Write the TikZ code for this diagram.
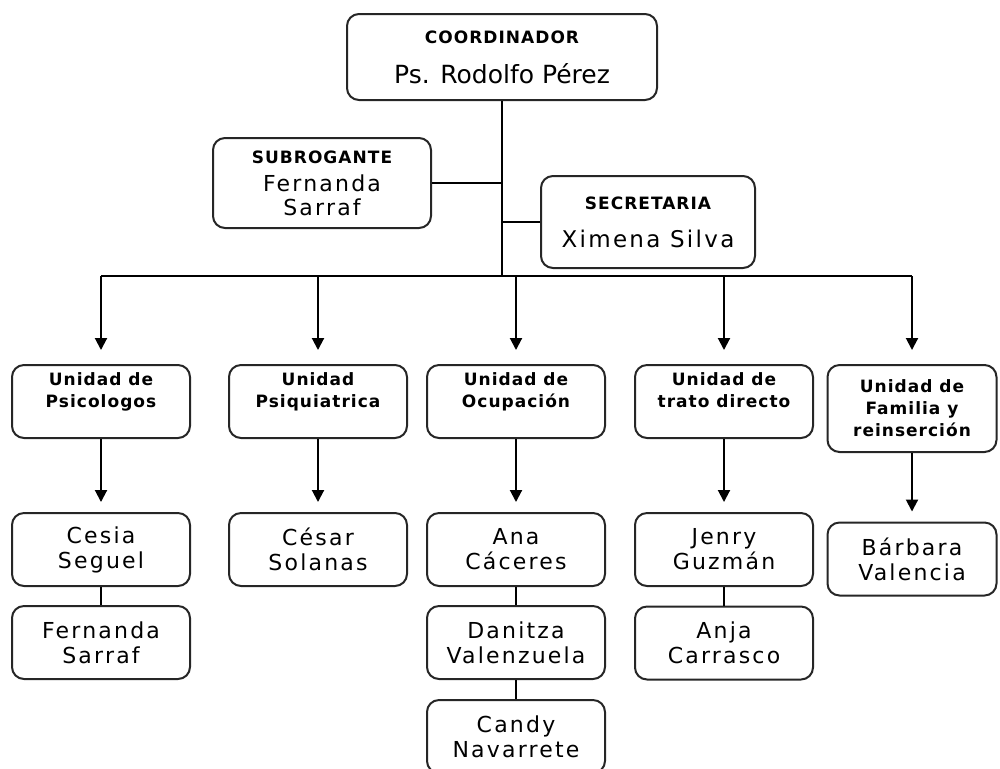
\documentclass[tikz,border=0pt]{standalone}
\usepackage{fontspec}
\usetikzlibrary{arrows.meta, calc, positioning}
\newfontfamily\namefont[LetterSpace=10]{DejaVu Sans}
\newfontfamily\plainfont{DejaVu Sans}
\newfontfamily\hdfont[LetterSpace=6]{DejaVu Sans}
\newcommand{\headtxt}[1]{{\hdfont\bfseries\fontsize{8.5}{10}\selectfont #1}}
\tikzstyle{box}=[draw=black!85, line width=1pt, rounded corners=6pt, fill=white, align=center, inner sep=2pt]
\tikzstyle{unitbox}=[box, minimum width=89pt, minimum height=36.5pt, font=\hdfont\bfseries\fontsize{8.5}{11}\selectfont]
\tikzstyle{namebox}=[box, minimum width=89pt, minimum height=36.5pt, font=\namefont\fontsize{11}{12.5}\selectfont]
\tikzstyle{conn}=[line width=1pt]
\tikzstyle{arr}=[conn, -{Triangle[length=6pt,width=6pt]}]

\begin{document}
\begin{tikzpicture}[x=0.5pt,y=-0.5pt]
\useasboundingbox (0,0) rectangle (1000,768);
\clip (0,0) rectangle (1000,768);
%top of the chart
\node[box, minimum width=155pt, minimum height=43pt, font=\plainfont\fontsize{12.5}{15}\selectfont] (coord) at (502,57) {\headtxt{COORDINADOR}\\[5pt]Ps. Rodolfo Pérez};
\node[box, minimum width=109pt, minimum height=45pt, font=\namefont\fontsize{11}{12}\selectfont] (subr) at (322,183) {\headtxt{SUBROGANTE}\\[2pt]Fernanda\\Sarraf};
\node[box, minimum width=107pt, minimum height=46pt, font=\namefont\fontsize{11.5}{14}\selectfont] (secr) at (648,222) {\headtxt{SECRETARIA}\\[5pt]Ximena Silva};
\coordinate (bus) at (500,276);
\draw[conn] (coord.south) -- (coord.south |- bus);
\draw[conn] (subr.east) -- (subr.east -| coord.south);
\draw[conn] (secr.west) -- (secr.west -| coord.south);
%units
\node[unitbox] (u1) at (101,401.5) {Unidad de\\Psicologos\\\mbox{}};
\node[unitbox] (u2) at (318,401.5) {Unidad\\Psiquiatrica\\\mbox{}};
\node[unitbox] (u3) at (516,401.5) {Unidad de\\Ocupación\\\mbox{}};
\node[unitbox] (u4) at (724,401.5) {Unidad de\\trato directo\\\mbox{}};
\node[unitbox, minimum width=84.5pt, minimum height=43.5pt] (u5) at (912,408.5) {Unidad de\\Familia y\\reinserción};
\draw[conn] (u1.north |- bus) -- (u5.north |- bus);
\foreach \i in {1,...,5}{
	\draw[arr, shorten >=7pt] (u\i.north |- bus) -- (u\i.north);
}
%people
\node[namebox] (p11) at (101,549.5) {Cesia\\Seguel};
\node[namebox] (p12) at (101,642.5) {Fernanda\\Sarraf};
\node[namebox] (p21) at (318,549.5) {César\\Solanas};
\node[namebox] (p31) at (516,549.5) {Ana\\Cáceres};
\node[namebox] (p32) at (516,642.5) {Danitza\\Valenzuela};
\node[namebox] (p33) at (516,736.5) {Candy\\Navarrete};
\node[namebox] (p41) at (724,549.5) {Jenry\\Guzmán};
\node[namebox] (p42) at (724,643) {Anja\\Carrasco};
\node[namebox, minimum width=84.5pt] (p51) at (912,559) {Bárbara\\Valencia};
\foreach \i in {1,...,5}{
	\draw[arr, shorten >=5pt] (u\i) -- (p\i1);
}
\draw[conn] (p11) -- (p12) (p31) -- (p32) (p32) -- (p33) (p41) -- (p42);
\end{tikzpicture}
\end{document}
